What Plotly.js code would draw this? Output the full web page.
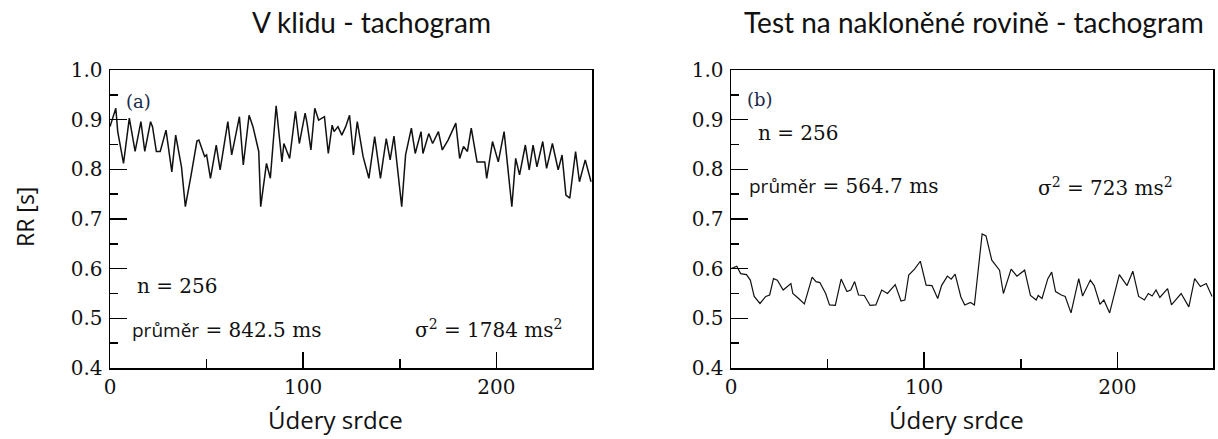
<!DOCTYPE html>
<html><head><meta charset="utf-8">
<script src="https://cdn.plot.ly/plotly-3.0.1.min.js"></script>
<style>html,body{margin:0;padding:0;background:#fff}#chart{width:1218px;height:439px}</style>
</head><body><div id="chart"></div>
<script>
// Panel (a): at rest
const restBeat = [0,2,3,4,7,10,13,16,18,21,22,24,26,29,32,34,37,39,40,42,45,46,49,50,52,55,57,61,63,67,69,72,74,77,78,81,83,86,89,90,93,96,98,101,102,104,106,108,111,113,115,116,118,120,122,124,126,128,131,134,137,140,143,145,147,151,153,156,158,161,162,165,167,170,172,175,179,181,183,185,187,190,194,195,198,201,204,208,210,212,215,217,219,221,224,226,229,232,234,236,238,241,243,246,249];
const restRR = [0.886,0.913,0.923,0.876,0.812,0.903,0.836,0.896,0.836,0.896,0.886,0.836,0.836,0.879,0.795,0.869,0.805,0.725,0.745,0.789,0.857,0.859,0.826,0.829,0.782,0.849,0.799,0.896,0.829,0.906,0.809,0.909,0.886,0.836,0.725,0.812,0.782,0.928,0.815,0.852,0.822,0.917,0.852,0.913,0.893,0.839,0.923,0.899,0.906,0.832,0.889,0.876,0.886,0.869,0.886,0.909,0.829,0.896,0.826,0.782,0.866,0.782,0.862,0.819,0.867,0.725,0.829,0.883,0.832,0.876,0.832,0.872,0.852,0.876,0.839,0.859,0.893,0.822,0.846,0.836,0.883,0.815,0.815,0.782,0.856,0.815,0.876,0.725,0.822,0.789,0.849,0.799,0.849,0.805,0.856,0.802,0.852,0.799,0.829,0.748,0.742,0.836,0.775,0.819,0.775];
// Panel (b): tilt test
const tiltBeat = [0,3,5,8,10,12,15,18,20,22,24,27,31,32,35,38,42,44,46,49,51,54,57,60,62,64,66,69,72,75,78,81,85,88,90,92,95,98,101,104,107,109,112,114,116,119,121,124,126,130,132,135,139,141,145,148,152,155,158,159,161,164,166,168,171,173,176,180,182,186,188,191,193,196,201,205,208,211,214,216,218,220,222,226,228,233,237,240,243,246,249];
const tiltRR = [0.600,0.605,0.590,0.588,0.577,0.544,0.530,0.544,0.547,0.580,0.577,0.557,0.570,0.550,0.540,0.529,0.583,0.574,0.572,0.550,0.527,0.526,0.579,0.554,0.557,0.574,0.547,0.546,0.526,0.527,0.557,0.550,0.568,0.535,0.537,0.587,0.599,0.615,0.567,0.566,0.540,0.566,0.585,0.579,0.589,0.543,0.527,0.532,0.527,0.670,0.666,0.617,0.597,0.550,0.599,0.585,0.597,0.546,0.537,0.546,0.540,0.580,0.593,0.554,0.547,0.544,0.511,0.580,0.545,0.577,0.566,0.528,0.537,0.511,0.588,0.566,0.595,0.544,0.537,0.550,0.545,0.557,0.542,0.560,0.527,0.550,0.523,0.580,0.564,0.570,0.544];

const panelTitles = ['V klidu - tachogram', 'Test na nakloněné rovině - tachogram'];
const xTitle = 'Údery srdce';
const yTitle = 'RR [s]';
const labels = ['(a)', '(b)'];
const nText = 'n = 256';
const meanText = ['842.5 ms', '564.7 ms'];
const varText = ['1784 ms', '723 ms'];

const serif = 'DejaVu Serif, Liberation Serif, serif';
const sans = 'Open Sans, Noto Sans, sans-serif';
const titleFont = 'Lato, sans-serif';

const traces = [
  {x: restBeat, y: restRR, type: 'scatter', mode: 'lines', line: {color: '#111', width: 1.5}, xaxis: 'x', yaxis: 'y', hoverinfo: 'skip'},
  {x: tiltBeat, y: tiltRR, type: 'scatter', mode: 'lines', line: {color: '#111', width: 1.2}, xaxis: 'x2', yaxis: 'y2', hoverinfo: 'skip'}
];

const yDom = [0.1617, 0.8405];
function xax(dom, anchor) {
  return {domain: dom, anchor: anchor, range: [0, 249.5], showgrid: false, zeroline: false,
    showline: true, mirror: true, linecolor: '#000', linewidth: 1.5,
    ticks: 'inside', ticklen: 16, tickwidth: 1.5, tickcolor: '#000', dtick: 100, tick0: 0,
    minor: {dtick: 50, ticks: 'inside', ticklen: 9, tickwidth: 1.5, tickcolor: '#000'},
    tickfont: {family: serif, size: 20, color: '#111'}};
}
function yax(anchor) {
  return {domain: yDom, range: [0.4, 1.0], anchor: anchor, showgrid: false, zeroline: false,
    showline: true, mirror: true, linecolor: '#000', linewidth: 1.5,
    ticks: 'inside', ticklen: 17, tickwidth: 1.5, tickcolor: '#000', dtick: 0.1, tick0: 0.4,
    tickformat: '.1f', ticklabelstandoff: 2,
    minor: {dtick: 0.05, ticks: 'inside', ticklen: 8, tickwidth: 1.5, tickcolor: '#000'},
    tickfont: {family: serif, size: 20, color: '#111'}};
}

function ann(xref, yref, x, y, text, font, extra) {
  return Object.assign({xref: xref, yref: yref, x: x, y: y, text: text, showarrow: false,
    xanchor: 'left', yanchor: 'middle', font: font}, extra || {});
}
function pann(px, py, text, font, extra) {
  return Object.assign({xref: 'paper', yref: 'paper', x: px / 1218, y: 1 - py / 439, text: text,
    showarrow: false, xanchor: 'center', yanchor: 'middle', font: font}, extra || {});
}
const f20 = {family: serif, size: 20, color: '#111'};
const tf = {family: titleFont, size: 28, color: '#111'};
const af = {family: sans, size: 24, color: '#111'};
const mspan = '<span style="font-family:Open Sans;font-size:19px">průměr</span> = ';
const annotations = [
  pann(371, 22, panelTitles[0], tf),
  pann(974, 22, panelTitles[1], tf),
  pann(335, 419, xTitle, af),
  pann(956, 419, xTitle, af),
  pann(25, 217, yTitle, {family: sans, size: 23, color: '#111'}, {textangle: -90}),
  ann('x', 'y', 7.5, 0.937, labels[0], {family: serif, size: 18, color: '#1a2a4a'}),
  ann('x', 'y', 13, 0.565, nText, f20),
  ann('x', 'y', 10.5, 0.476, mspan + meanText[0], f20),
  ann('x', 'y', 157, 0.478, 'σ<sup>2</sup> = ' + varText[0] + '<sup>2</sup>', f20),
  ann('x2', 'y2', 7.5, 0.94, labels[1], {family: serif, size: 18, color: '#1a2a4a'}),
  ann('x2', 'y2', 13, 0.873, nText, f20),
  ann('x2', 'y2', 8.5, 0.767, mspan + meanText[1], f20),
  ann('x2', 'y2', 158, 0.764, 'σ<sup>2</sup> = ' + varText[1] + '<sup>2</sup>', f20)
];

const layout = {
  width: 1218, height: 439, margin: {l: 0, r: 0, t: 0, b: 0},
  paper_bgcolor: '#fff', plot_bgcolor: '#fff', showlegend: false,
  xaxis: xax([110/1218, 592/1218], 'y'),
  yaxis: yax('x'),
  xaxis2: xax([731/1218, 1213/1218], 'y2'),
  yaxis2: yax('x2'),
  annotations: annotations
};

Plotly.newPlot('chart', traces, layout, {staticPlot: true});
</script></body></html>
